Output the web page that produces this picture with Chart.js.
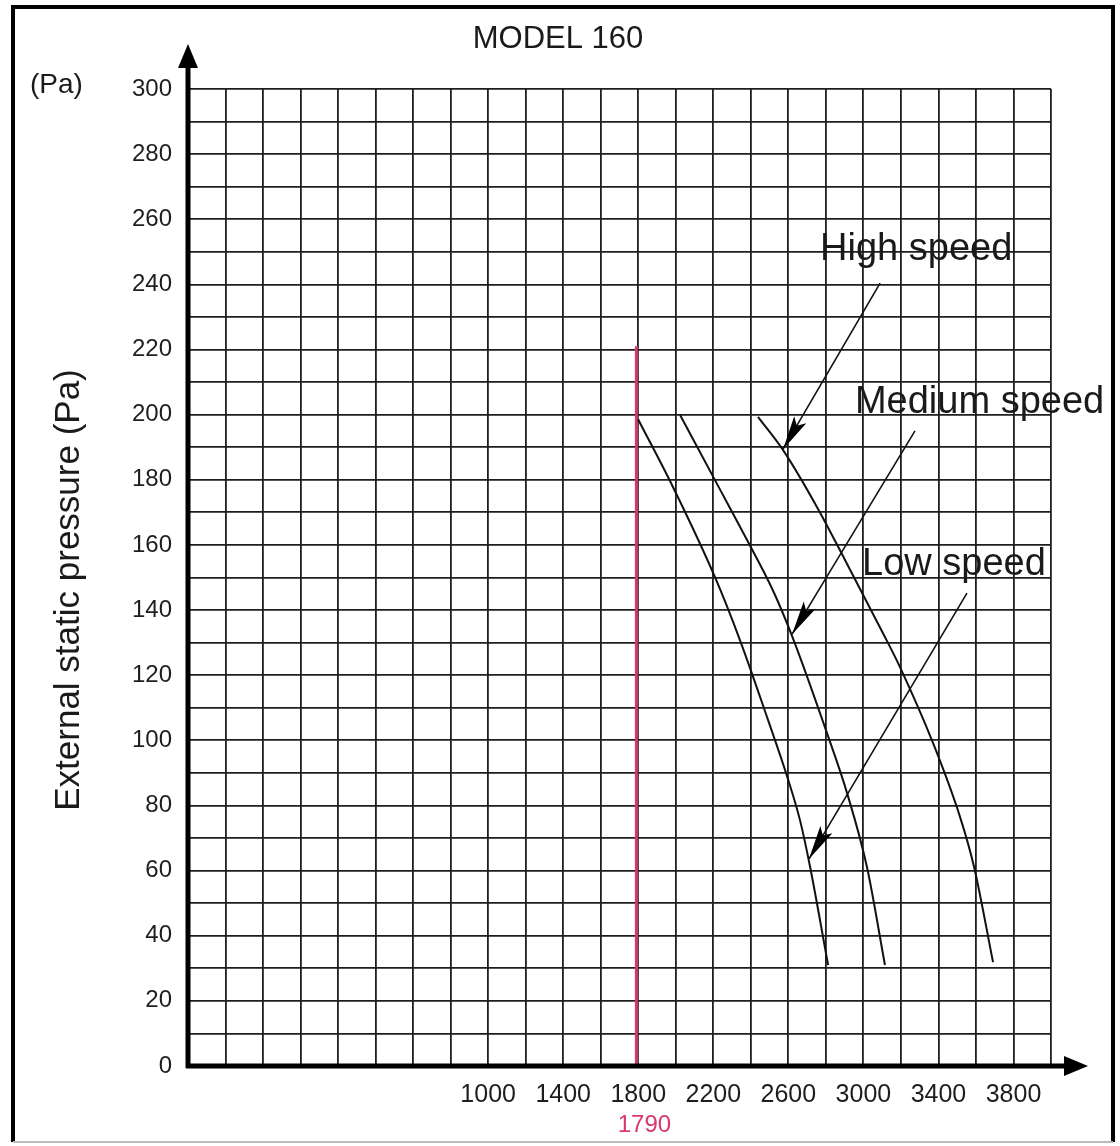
<!DOCTYPE html>
<html>
<head>
<meta charset="utf-8">
<script src="https://cdn.jsdelivr.net/npm/chart.js@4/dist/chart.umd.min.js"></script>
<style>
  html, body { margin: 0; padding: 0; background: #fff; }
  #wrap { width: 1120px; height: 1146px; position: relative; }
</style>
</head>
<body>
<div id="wrap"><canvas id="fan-chart"></canvas></div>
<script>
// axis labels
const xTickLabels = [1000, 1400, 1800, 2200, 2600, 3000, 3400, 3800];
const yTickLabels = [0, 20, 40, 60, 80, 100, 120, 140, 160, 180, 200, 220, 240, 260, 280, 300];

// curves (airflow, pressure Pa)
const lowX = [1799, 1985, 2209, 2342, 2492, 2593, 2662, 2716, 2812];
const lowY = [198.6, 177.8, 150.1, 130.8, 106.2, 89.0, 75.5, 61.1, 31.0];
const medX = [2023, 2209, 2380, 2518, 2620, 2806, 2913, 3019, 3115];
const medY = [199.9, 179.9, 161.5, 146.0, 132.0, 102.2, 83.8, 61.1, 31.0];
const highX = [2438, 2572, 2753, 2902, 3099, 3195, 3371, 3515, 3590, 3691];
const highY = [199.3, 189.1, 171.6, 155.4, 133.5, 122.5, 99.2, 76.5, 61.1, 31.9];

// red marker line
const markX = 1790;
const markTop = 221;

// callout labels and arrows: [text, x, y] and [fromX, fromY, toX, toY]
const calloutTexts = [['High speed', 2769, 247.5], ['Medium speed', 2955, 200.5], ['Low speed', 2993, 150.8]];
const calloutArrows = [[3089, 240.4, 2572, 189.4], [3275, 195.0, 2620, 132.6], [3552, 145.2, 2710, 63.6]];

const toPoints = (xs, ys) => xs.map((x, i) => ({ x: x, y: ys[i] }));
const FONT = '"Liberation Sans", Arial, sans-serif';

const curveStyle = { borderColor: '#111', borderWidth: 2, pointRadius: 0, showLine: true, cubicInterpolationMode: 'monotone', fill: false };

const datasets = [
    Object.assign({ label: 'Low speed', data: toPoints(lowX, lowY) }, curveStyle),
    Object.assign({ label: 'Medium speed', data: toPoints(medX, medY) }, curveStyle),
    Object.assign({ label: 'High speed', data: toPoints(highX, highY) }, curveStyle),
    { label: 'mark', data: [{ x: markX, y: 0 }, { x: markX, y: markTop }], borderColor: '#d6396f', borderWidth: 3, pointRadius: 0, showLine: true }
];
calloutArrows.forEach((a, i) => {
    datasets.push({ label: 'arrow' + i, data: [{ x: a[0], y: a[1] }, { x: a[2], y: a[3] }], borderColor: '#111', borderWidth: 1.6, pointRadius: 0, showLine: true });
});

function arrowHead(ctx, x1, y1, x2, y2, len, half) {
    const ang = Math.atan2(y2 - y1, x2 - x1);
    ctx.save();
    ctx.translate(x2, y2);
    ctx.rotate(ang);
    ctx.beginPath();
    ctx.moveTo(0, 0);
    ctx.lineTo(-len, -half);
    ctx.lineTo(-len * 0.8, 0);
    ctx.lineTo(-len, half);
    ctx.closePath();
    ctx.fill();
    ctx.restore();
}

const decor = {
    id: 'decor',
    beforeDraw(chart) {
        const ctx = chart.ctx;
        ctx.save();
        ctx.fillStyle = '#fff';
        ctx.fillRect(0, 0, chart.width, chart.height);
        ctx.restore();
    },
    afterDraw(chart) {
        const ctx = chart.ctx;
        const xs = chart.scales.x, ys = chart.scales.y;
        const area = chart.chartArea;
        ctx.save();

        // frame
        ctx.strokeStyle = '#000';
        ctx.lineWidth = 4;
        ctx.beginPath();
        ctx.moveTo(13, 1142);
        ctx.lineTo(13, 7);
        ctx.lineTo(1113, 7);
        ctx.lineTo(1113, 1142);
        ctx.stroke();
        ctx.strokeStyle = '#bbb';
        ctx.lineWidth = 2;
        ctx.beginPath();
        ctx.moveTo(13, 1142);
        ctx.lineTo(1113, 1142);
        ctx.stroke();

        // axes with arrows
        ctx.strokeStyle = '#000';
        ctx.fillStyle = '#000';
        ctx.lineWidth = 5;
        ctx.beginPath();
        ctx.moveTo(area.left, area.bottom + 2);
        ctx.lineTo(area.left, 62);
        ctx.moveTo(area.left - 2, area.bottom);
        ctx.lineTo(1068, area.bottom);
        ctx.stroke();
        ctx.beginPath();
        ctx.moveTo(area.left, 44);
        ctx.lineTo(area.left - 10, 68);
        ctx.lineTo(area.left + 10, 68);
        ctx.closePath();
        ctx.fill();
        ctx.beginPath();
        ctx.moveTo(1088, area.bottom);
        ctx.lineTo(1064, area.bottom - 10);
        ctx.lineTo(1064, area.bottom + 10);
        ctx.closePath();
        ctx.fill();

        // callout arrowheads
        calloutArrows.forEach(a => {
            arrowHead(ctx, xs.getPixelForValue(a[0]), ys.getPixelForValue(a[1]),
                xs.getPixelForValue(a[2]), ys.getPixelForValue(a[3]), 34, 7);
        });

        // callout texts
        ctx.fillStyle = '#1a1a1a';
        ctx.font = '38px ' + FONT;
        ctx.textAlign = 'left';
        ctx.textBaseline = 'alphabetic';
        calloutTexts.forEach(t => {
            ctx.fillText(t[0], xs.getPixelForValue(t[1]), ys.getPixelForValue(t[2]));
        });

        // title
        ctx.font = '31px ' + FONT;
        ctx.textAlign = 'center';
        ctx.fillText('MODEL 160', 558, 48);

        // unit
        ctx.font = '28px ' + FONT;
        ctx.textAlign = 'left';
        ctx.fillText('(Pa)', 30, 93);

        // y title
        ctx.save();
        ctx.translate(79, 590);
        ctx.rotate(-Math.PI / 2);
        ctx.font = '35px ' + FONT;
        ctx.textAlign = 'center';
        ctx.fillText('External static pressure (Pa)', 0, 0);
        ctx.restore();

        // red value
        ctx.fillStyle = '#d6396f';
        ctx.font = '24px ' + FONT;
        ctx.textAlign = 'center';
        ctx.fillText(String(markX), xs.getPixelForValue(markX) + 8, 1132);

        ctx.restore();
    }
};

new Chart(document.getElementById('fan-chart').getContext('2d'), {
    type: 'scatter',
    data: { datasets: datasets },
    options: {
        responsive: true,
        maintainAspectRatio: false,
        animation: false,
        layout: { padding: { top: 89, right: 69, left: 0, bottom: 0 } },
        plugins: { legend: { display: false }, tooltip: { enabled: false } },
        scales: {
            x: {
                type: 'linear',
                min: -600,
                max: 4000,
                afterFit(scale) { scale.height = 80; },
                border: { display: false },
                grid: { color: '#1e1e1e', lineWidth: 1.8, drawTicks: false },
                ticks: {
                    stepSize: 200,
                    autoSkip: false,
                    maxRotation: 0,
                    padding: 14,
                    color: '#1e1e1e',
                    font: { family: FONT, size: 25 },
                    callback: v => xTickLabels.includes(v) ? String(v) : ''
                }
            },
            y: {
                type: 'linear',
                min: 0,
                max: 300,
                afterFit(scale) { scale.width = 188; },
                border: { display: false },
                grid: { color: '#1e1e1e', lineWidth: 1.8, drawTicks: false },
                ticks: {
                    stepSize: 10,
                    autoSkip: false,
                    padding: 16,
                    color: '#1e1e1e',
                    font: { family: FONT, size: 24 },
                    callback: v => yTickLabels.includes(v) ? String(v) : ''
                }
            }
        }
    },
    plugins: [decor]
});
</script>
</body>
</html>
